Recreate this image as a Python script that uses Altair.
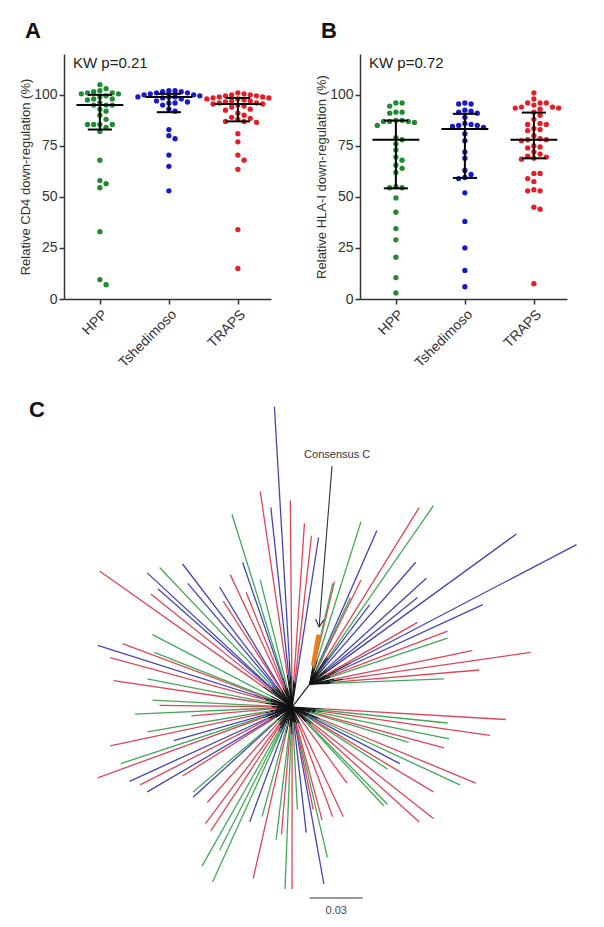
import math
import altair as alt
import pandas as pd

# ---------------- data: panels A and B ----------------
groups = ["HPP", "Tshedimoso", "TRAPS"]
dot_colors = ["#1f8a30", "#1a1ac4", "#e41e26"]
tree_colors = ["#44a85a", "#4545b0", "#dc4658", "#f07a1e"]

cd4_hpp = [105, 103, 102, 101.5, 101, 101, 100.5, 100.5, 99.5, 99, 98, 98, 97.5, 96, 95, 95, 95,
           93, 92, 90, 88, 85.5, 85.5, 85.5, 85.5, 84, 82, 68, 58, 56.5, 54.5, 33, 9.5, 7]
cd4_tsh = [102, 102, 101.5, 101.5, 101, 101, 100.5, 100, 100, 99.5, 99, 99, 99, 98.5, 98, 97,
           96.5, 96, 96, 95, 93, 92, 83, 80, 78.5, 70.5, 65, 53]
cd4_traps = [101, 100.5, 100, 100, 99.5, 99.5, 99, 99, 98.5, 98.5, 98, 98, 97.5, 97, 97, 96.5,
             96, 96, 95.5, 95.5, 95, 94.5, 94, 93, 92.5, 91, 90, 89, 88.5, 88, 87, 87, 86.5,
             81, 77, 70.5, 68, 63.5, 34, 15]
cd4_median = [95, 99, 95.5]
cd4_q1 = [83, 91.5, 87]
cd4_q3 = [100, 100.5, 98.5]

hla_hpp = [96, 96, 94.5, 91.5, 91.5, 91, 87.5, 87.5, 87, 87, 87, 86.5, 85, 79, 78, 76, 73, 69.5,
           68, 65.5, 64, 62, 55, 54.5, 54.5, 49.5, 42.5, 34.5, 29, 20.5, 10.5, 3]
hla_tsh = [96, 95.5, 95.5, 92.5, 92, 91.5, 91, 89, 86, 85.5, 85, 85, 84.5, 84, 81, 77.5, 72, 69,
           63, 61, 59.5, 59, 52, 38, 25, 14, 6]
hla_traps = [101, 98, 96, 96, 96, 95, 94, 94, 93.5, 93.5, 93, 91.5, 90, 88, 86, 85.5, 85.5, 83.5,
             83, 82.5, 80, 78.5, 78, 78, 77.5, 75, 74.5, 74, 72, 71, 70, 69.5, 69, 68.5, 61.5,
             61.5, 59, 57.5, 53.5, 53, 53, 45, 44, 7.5]
hla_median = [78, 83.3, 78]
hla_q1 = [54.2, 59.3, 68.9]
hla_q3 = [87.4, 90.7, 91.3]

# ---------------- data: panel C (tree, milli-substitutions/site) ----------------
tip_x = [-10, -18, -12, -1, -34, 7, 11, 15, -109, -82, -75, -62, -28, -18, -35, -59, -76, -80,
         -41, -26, -39, -79, -110, -96,
         39, 48, 72, 80, 127, 161, 70, 76, 71, 108, 24, 39, 44, 71, 88, 88, 102, 135, 106, 86,
         15, 23, 33,
         121, 88, 112, 89, 66, 86, 61, 54, 104, 95, 80, 31, 54, 52, 80, 72, 29, 23, 17, 8, 20, 18,
         -103, -78, -101, -82, -79, -75, -89, -57, -82, -67, -103, -97, -110, -92, -86, -82, -62,
         -56, -56, -48, -49, -46, -51, -45, -41, -24, -17, -22, -9, -6, -4, 0, 3, 12]
tip_y = [170, 122, 113, 117, 109, 104, 97, 96, 77, 76, 79, 81, 82, 72, 75, 70, 67, 64,
         68, 65, 60, 41, 35, 36,
         105, 100, 113, 114, 98, 92, 82, 73, 62, 58, 71, 72, 58, 48, 43, 39, 32, 31, 21, 16,
         41, 70, 62,
         -7, -9, -16, -18, -20, -23, -32, -35, -43, -44, -48, -43, -55, -56, -63, -65, -62, -62,
         -64, -71, -85, -100,
         28, 31, 15, 16, 4, 1, -4, -5, -14, -19, -22, -32, -40, -42, -44, -48, -39,
         -51, -48, -54, -66, -70, -90, -99, -81, -65, -62, -97, -75, -72, -103, -103, -58, -58]
tip_group = list("TRTRHRRTRTHTTHRTTRTRRHTR"
                 "HTRHTTTTTTRRTRRHRRRHC" "HH"
                 "RHRHHRTHRHRRHHRRRRRTHT"
                 "RHRHHRHRHTRHRTRTRTHRRRHHHTHRHRHRHR")
tip_parent = ["c"] * 24 + ["u"] * 23 + ["c"] * 22 + ["c"] * 34
node_name = ["c", "u"]
node_x = [0, 10]
node_y = [0, 13]

# annotations (tree units)
consensus_label = "Consensus C"
consensus_text_xy = [25.5, 142.7]
consensus_line = [22.6, 136.4, 15.3, 45.3]
scalebar = [10, 40, -108]
scalebar_label = "0.03"

# ---------------- helpers ----------------
PLOT_W, PLOT_H, YMAX = 207, 245, 120
PX_Y = PLOT_H / YMAX
PX_CAT = PLOT_W / 3.0


def swarm(values, dot=5.6, step=6.2):
    placed, offs = [], []
    cands = [0.0]
    for i in range(1, 12):
        cands += [i * step, -i * step]
    for v in sorted(values, reverse=True):
        yy = v * PX_Y
        chosen = cands[-1]
        for c in cands:
            if all((c - px) ** 2 + (yy - py) ** 2 >= dot ** 2 for px, py in placed):
                chosen = c
                break
        placed.append((chosen, yy))
        offs.append((v, chosen / PX_CAT))
    return offs


def panel(series, med, q1, q3, letter, kw, ytitle):
    rows = []
    for gi, (g, vals) in enumerate(zip(groups, series)):
        for v, off in swarm(vals):
            rows.append({"group": g, "value": v, "xpos": gi + off})
    pts = pd.DataFrame(rows)
    summ = pd.DataFrame({
        "group": groups, "idx": [0, 1, 2], "median": med, "q1": q1, "q3": q3,
    })
    summ["m1"] = summ["idx"] - 0.34
    summ["m2"] = summ["idx"] + 0.34
    summ["c1"] = summ["idx"] - 0.175
    summ["c2"] = summ["idx"] + 0.175

    xscale = alt.Scale(domain=[-0.52, 2.48], nice=False, zero=False)
    yscale = alt.Scale(domain=[0, YMAX], nice=False)
    xaxis = alt.Axis(values=[0, 1, 2], labelExpr="['HPP','Tshedimoso','TRAPS'][datum.value]",
                     labelAngle=-45, title=None, labelFontSize=14, labelPadding=3)
    yaxis = alt.Axis(values=[0, 25, 50, 75, 100], title=ytitle, titlePadding=1)

    dots = alt.Chart(pts).mark_circle(size=28, opacity=1).encode(
        x=alt.X("xpos:Q", scale=xscale, axis=xaxis),
        y=alt.Y("value:Q", scale=yscale, axis=yaxis),
        color=alt.Color("group:N", scale=alt.Scale(domain=groups, range=dot_colors), legend=None),
    )
    sb = alt.Chart(summ)
    medline = sb.mark_rule(color="black", strokeWidth=2).encode(
        x="m1:Q", x2="m2:Q", y="median:Q")
    cap1 = sb.mark_rule(color="black", strokeWidth=2).encode(x="c1:Q", x2="c2:Q", y="q1:Q")
    cap3 = sb.mark_rule(color="black", strokeWidth=2).encode(x="c1:Q", x2="c2:Q", y="q3:Q")
    vline = sb.mark_rule(color="black", strokeWidth=2).encode(x="idx:Q", y="q1:Q", y2="q3:Q")
    kwt = alt.Chart(pd.DataFrame({"t": [kw]})).mark_text(
        align="left", baseline="middle", fontSize=15, color="#222", font="Liberation Sans"
    ).encode(x=alt.value(9), y=alt.value(9), text="t:N")
    let = alt.Chart(pd.DataFrame({"t": [letter]})).mark_text(
        align="center", baseline="middle", fontSize=22, fontWeight="bold", color="#111",
        font="Liberation Sans"
    ).encode(x=alt.value(-31), y=alt.value(-23), text="t:N")
    return alt.layer(dots, vline, medline, cap1, cap3, kwt, let).properties(
        width=PLOT_W, height=PLOT_H)


chartA = panel([cd4_hpp, cd4_tsh, cd4_traps], cd4_median, cd4_q1, cd4_q3, "A",
               "KW p=0.21", "Relative CD4 down-regulation (%)")
chartB = panel([hla_hpp, hla_tsh, hla_traps], hla_median, hla_q1, hla_q3, "B",
               "KW p=0.72", "Relative HLA-I down-regulation (%)")

# ---------------- panel C ----------------
gmap = {"H": "HPP", "T": "Tshedimoso", "R": "TRAPS", "C": "Consensus"}
nodes = dict(zip(node_name, zip(node_x, node_y)))
leaf_rows = []
for tx, ty, g, p in zip(tip_x, tip_y, tip_group, tip_parent):
    px, py = nodes[p]
    stub = 0.38 if g == "C" else 0.15
    sx = px + stub * (tx - px)
    sy = py + stub * (ty - py)
    leaf_rows.append({"px": px, "py": py, "sx": sx, "sy": sy, "tx": tx, "ty": ty,
                      "grp": gmap[g]})
leaves = pd.DataFrame(leaf_rows)
internal = pd.DataFrame({"px": [node_x[0]], "py": [node_y[0]], "sx": [node_x[1]], "sy": [node_y[1]]})

CW, CH = 518, 525
PXU = 53 / 30.0
cx0 = -129.1
cy0 = -118.8
cxs = alt.Scale(domain=[cx0, cx0 + CW / PXU], nice=False, zero=False)
cys = alt.Scale(domain=[cy0, cy0 + CH / PXU], nice=False, zero=False)
cscale = alt.Scale(domain=["HPP", "Tshedimoso", "TRAPS", "Consensus"], range=tree_colors)

black_stubs = alt.Chart(pd.concat([leaves[["px", "py", "sx", "sy"]], internal])).mark_rule(
    color="#111", strokeWidth=1.1).encode(
    x=alt.X("px:Q", scale=cxs, axis=None), y=alt.Y("py:Q", scale=cys, axis=None),
    x2="sx:Q", y2="sy:Q")
col_branches = alt.Chart(leaves[leaves["grp"] != "Consensus"]).mark_rule(strokeWidth=1.3).encode(
    x=alt.X("sx:Q", scale=cxs, axis=None), y=alt.Y("sy:Q", scale=cys, axis=None),
    x2="tx:Q", y2="ty:Q",
    stroke=alt.Stroke("grp:N", scale=cscale, legend=None),
)
cons_branch = alt.Chart(leaves[leaves["grp"] == "Consensus"]).mark_rule(strokeWidth=4.5).encode(
    x=alt.X("sx:Q", scale=cxs, axis=None), y=alt.Y("sy:Q", scale=cys, axis=None),
    x2="tx:Q", y2="ty:Q",
    stroke=alt.Stroke("grp:N", scale=cscale, legend=None),
)

# annotation arrow
x1, y1, x2, y2 = consensus_line
dx, dy = x1 - x2, y1 - y2
L = math.hypot(dx, dy)
ux, uy = dx / L, dy / L
heads = []
for a in (math.radians(28), math.radians(-28)):
    hx = ux * math.cos(a) - uy * math.sin(a)
    hy = ux * math.sin(a) + uy * math.cos(a)
    heads.append({"ax": x2, "ay": y2, "bx": x2 + 5 * hx, "by": y2 + 5 * hy})
arrow_df = pd.DataFrame([{"ax": x1, "ay": y1, "bx": x2, "by": y2}] + heads)
arrow = alt.Chart(arrow_df).mark_rule(color="#333", strokeWidth=1.1).encode(
    x=alt.X("ax:Q", scale=cxs, axis=None), y=alt.Y("ay:Q", scale=cys, axis=None),
    x2="bx:Q", y2="by:Q")
ctext = alt.Chart(pd.DataFrame({"x": [consensus_text_xy[0]], "y": [consensus_text_xy[1]],
                                "t": [consensus_label]})).mark_text(
    fontSize=11, color="#333", font="Liberation Sans").encode(
    x=alt.X("x:Q", scale=cxs, axis=None), y=alt.Y("y:Q", scale=cys, axis=None), text="t:N")
sbar = alt.Chart(pd.DataFrame({"a": [scalebar[0]], "b": [scalebar[1]], "y": [scalebar[2]]})).mark_rule(
    color="#777", strokeWidth=1.5).encode(
    x=alt.X("a:Q", scale=cxs, axis=None), x2="b:Q", y=alt.Y("y:Q", scale=cys, axis=None))
slab = alt.Chart(pd.DataFrame({"x": [(scalebar[0] + scalebar[1]) / 2], "y": [scalebar[2]],
                               "t": [scalebar_label]})).mark_text(
    fontSize=11, color="#444", dy=13, font="Liberation Sans").encode(
    x=alt.X("x:Q", scale=cxs, axis=None), y=alt.Y("y:Q", scale=cys, axis=None), text="t:N")
clet = alt.Chart(pd.DataFrame({"t": ["C"]})).mark_text(
    fontSize=22, fontWeight="bold", color="#111", font="Liberation Sans").encode(
    x=alt.value(-27), y=alt.value(18), text="t:N")

chartC = alt.layer(black_stubs, col_branches, cons_branch, arrow, ctext, sbar, slab, clet).properties(
    width=CW, height=CH)

chart = alt.vconcat(
    alt.hconcat(chartA, chartB, spacing=43),
    chartC,
    spacing=22,
).resolve_scale(color="independent", stroke="independent").properties(
    padding={"left": 11, "top": 12, "right": 0, "bottom": 0}
).configure_view(
    stroke=None
).configure_axis(
    grid=False, domainColor="#333", tickColor="#333", labelColor="#333", titleColor="#333",
    labelFont="Liberation Sans", titleFont="Liberation Sans", labelFontSize=14,
    titleFontSize=13, titleFontWeight="normal", domainWidth=1.5, tickWidth=1.5, tickSize=5,
)

chart.save("out.html", embed_options={"renderer": "svg", "actions": False})
